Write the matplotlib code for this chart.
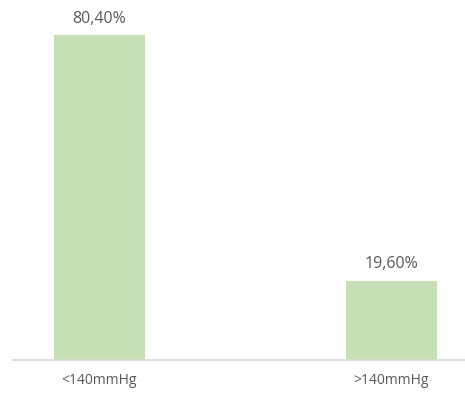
import matplotlib.pyplot as plt

categories = ['<140mmHg', '>140mmHg']
values = [80.40, 19.60]
labels = ['80,40%', '19,60%']

plt.rcParams['font.family'] = ['Open Sans', 'DejaVu Sans']

fig = plt.figure(figsize=(4.65, 3.96), dpi=100)
ax = fig.add_axes([13 / 465, 36 / 396, 1 - 13 / 465, 1 - 36 / 396])

x = list(range(len(categories)))
ax.bar(x, values, width=0.312, color='#C5E0B4', zorder=2)

for xi, v, lab in zip(x, values, labels):
    ax.annotate(lab, (xi, v), xytext=(0, 6), textcoords='offset points',
                ha='center', va='bottom', fontsize=11.5, color='#595959')

ax.set_xlim(-0.296, 1.252)
ax.set_ylim(0, 89.06)
ax.set_xticks(x)
ax.set_xticklabels(categories, fontsize=10, color='#595959')
ax.tick_params(axis='x', length=0, pad=9)
ax.set_yticks([])
for side in ['top', 'right', 'left']:
    ax.spines[side].set_visible(False)
ax.spines['bottom'].set_color('#D9D9D9')
ax.spines['bottom'].set_linewidth(1.2)

fig.savefig('out.png', dpi=100)
